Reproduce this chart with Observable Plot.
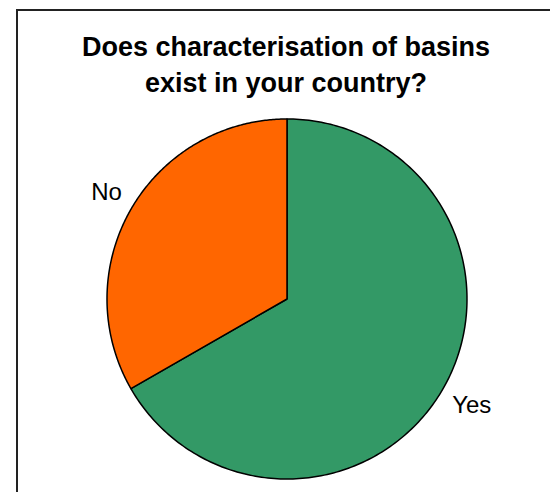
<!DOCTYPE html>
<html>
<head>
<meta charset="utf-8">
<script src="https://cdn.jsdelivr.net/npm/d3@7"></script>
<script src="https://cdn.jsdelivr.net/npm/@observablehq/plot@0.6"></script>
<style>
  body { margin: 0; background: white; }
  #wrap { position: relative; width: 550px; height: 492px; overflow: hidden; font-family: "Liberation Sans", Arial, sans-serif; }
  #chart { position: absolute; left: 0; top: 0; }
  #frame { position: absolute; left: 16px; top: 9px; right: -4px; bottom: -4px; border-left: 2px solid #222; border-top: 2px solid #222; }
  #title { position: absolute; left: 0; top: 29px; width: 572px; text-align: center; font-weight: bold; font-size: 27px; line-height: 36px; color: #000; }
</style>
</head>
<body>
<div id="wrap">
  <div id="chart"></div>
  <div id="frame"></div>
  <div id="title">Does characterisation of basins<br>exist in your country?</div>
</div>
<script>
const categories = ["Yes", "No"];
const values = [66.7, 33.3];
const colors = ["#339966", "#FF6600"];

const pie = d3.pie().sort(null).value((d, i) => values[i]);
const arcs = pie(categories);

// sample each slice outline (center -> arc -> center)
const outline = [];
arcs.forEach((a, i) => {
  const cat = categories[i];
  outline.push({category: cat, x: 0, y: 0});
  const steps = 240;
  for (let k = 0; k <= steps; k++) {
    const t = a.startAngle + (a.endAngle - a.startAngle) * k / steps;
    outline.push({category: cat, x: Math.sin(t), y: Math.cos(t)});
  }
  outline.push({category: cat, x: 0, y: 0});
});

const labelRadius = 1.06;
const labels = arcs.map((a, i) => {
  const m = (a.startAngle + a.endAngle) / 2;
  const sx = Math.sin(m), cy = Math.cos(m);
  return {label: categories[i], x: labelRadius * sx, y: labelRadius * cy, right: sx >= 0, lower: cy < 0};
});

const cx = 286.5, cy = 298.5, r = 180;
const textStyle = {x: "x", y: "y", text: "label", fontSize: 24, fill: "black", fontFamily: "Liberation Sans, Arial, sans-serif"};
const chart = Plot.plot({
  width: 550,
  height: 492,
  margin: 0,
  style: {background: "transparent"},
  x: {domain: [-1, 1], range: [cx - r, cx + r], axis: null},
  y: {domain: [-1, 1], range: [cy + r, cy - r], axis: null},
  color: {domain: categories, range: colors},
  marks: [
    Plot.line(outline, {x: "x", y: "y", z: "category", fill: "category", stroke: "black", strokeWidth: 1.5, strokeLinejoin: "round"}),
    Plot.text(labels.filter(d => d.right), {...textStyle, textAnchor: "start", dy: 11}),
    Plot.text(labels.filter(d => !d.right), {...textStyle, textAnchor: "end", dy: -11})
  ]
});
document.getElementById("chart").appendChild(chart);
</script>
</body>
</html>
